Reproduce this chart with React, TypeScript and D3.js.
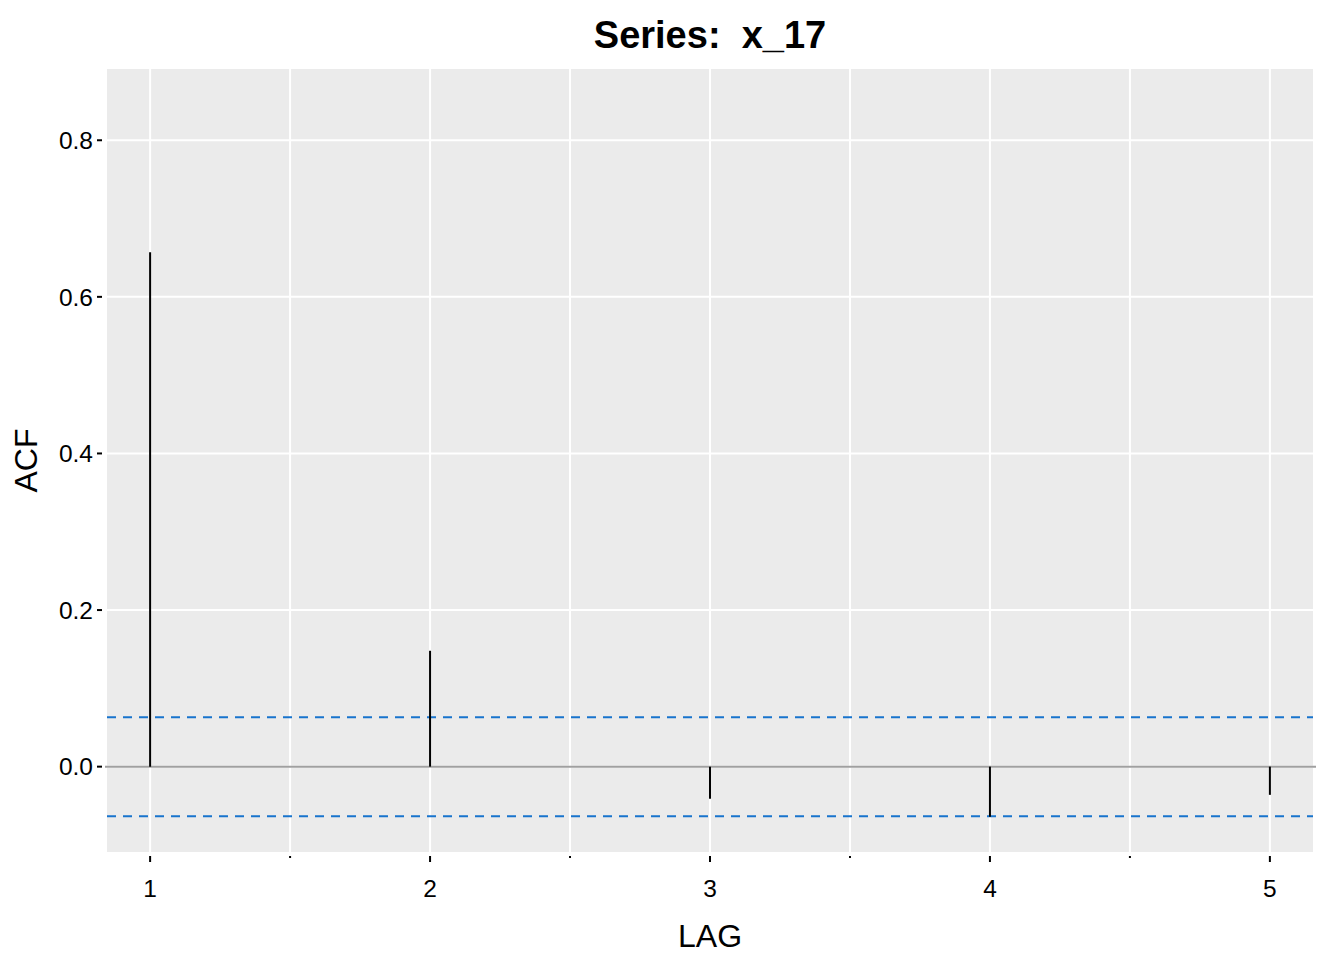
import * as d3 from "d3";

const lags = [1, 2, 3, 4, 5];
const acfValues = [0.657, 0.148, -0.041, -0.064, -0.036];
const ciBound = 0.0632;
const xTicks = [1, 2, 3, 4, 5];
const xMinorTicks = [1.5, 2.5, 3.5, 4.5];
const yTicks = [0, 0.2, 0.4, 0.6, 0.8];
const titleText = "Series:  x_17";
const xLabel = "LAG";
const yLabel = "ACF";

const width = 1344;
const height = 960;
const panel = { left: 107, right: 1313, top: 69, bottom: 852 };
const font = "'Liberation Sans', Arial, sans-serif";

export default function App() {
    const x = d3.scaleLinear().domain([0.846, 5.154]).range([panel.left, panel.right]);
    const y = d3.scaleLinear().domain([-0.109, 0.891]).range([panel.bottom, panel.top]);
    const fmt = d3.format(".1f");

    return (
        <div style={{ position: "fixed", left: 0, top: 0 }}>
            <svg width={width} height={height} style={{ display: "block", background: "#fff" }}>
                <rect
                    x={panel.left}
                    y={panel.top}
                    width={panel.right - panel.left}
                    height={panel.bottom - panel.top}
                    fill="#EBEBEB"
                />

                {/* grid */}
                {xMinorTicks.map(t => (
                    <line key={"xm" + t} x1={x(t)} x2={x(t)} y1={panel.top} y2={panel.bottom} stroke="#fff" strokeWidth={2} />
                ))}
                {xTicks.map(t => (
                    <line key={"xg" + t} x1={x(t)} x2={x(t)} y1={panel.top} y2={panel.bottom} stroke="#fff" strokeWidth={2} />
                ))}
                {yTicks.map(t => (
                    <line key={"yg" + t} x1={panel.left} x2={panel.right} y1={y(t)} y2={y(t)} stroke="#fff" strokeWidth={2} />
                ))}

                {/* zero line */}
                <line x1={panel.left - 2} x2={panel.right + 3} y1={y(0)} y2={y(0)} stroke="#A0A0A0" strokeWidth={2} />

                {/* confidence bounds */}
                {[ciBound, -ciBound].map(b => (
                    <line
                        key={"ci" + b}
                        x1={panel.left}
                        x2={panel.right}
                        y1={y(b)}
                        y2={y(b)}
                        stroke="#1874CD"
                        strokeWidth={2}
                        strokeDasharray="9,7"
                    />
                ))}

                {/* acf segments */}
                {lags.map((l, i) => (
                    <line key={"bar" + l} x1={x(l)} x2={x(l)} y1={y(0)} y2={y(acfValues[i])} stroke="#000" strokeWidth={2} />
                ))}

                {/* x axis */}
                {xTicks.map(t => (
                    <g key={"xt" + t} transform={`translate(${x(t)},0)`}>
                        <line y1={856} y2={862} stroke="#000" strokeWidth={2} />
                        <text y={897} textAnchor="middle" fontFamily={font} fontSize={24.5} fill="#000">{t}</text>
                    </g>
                ))}
                {xMinorTicks.map(t => (
                    <line key={"xmt" + t} x1={x(t)} x2={x(t)} y1={856} y2={858} stroke="#000" strokeWidth={2} />
                ))}

                {/* y axis */}
                {yTicks.map(t => (
                    <g key={"yt" + t} transform={`translate(0,${y(t)})`}>
                        <line x1={97} x2={102} stroke="#000" strokeWidth={2} />
                        <text x={93} dy="0.36em" textAnchor="end" fontFamily={font} fontSize={24.5} fill="#000">{fmt(t)}</text>
                    </g>
                ))}

                {/* titles */}
                <text
                    x={(panel.left + panel.right) / 2}
                    y={48}
                    textAnchor="middle"
                    fontFamily={font}
                    fontSize={38}
                    fontWeight="bold"
                    fill="#000"
                    style={{ whiteSpace: "pre" }}
                >
                    {titleText}
                </text>
                <text x={(panel.left + panel.right) / 2} y={947} textAnchor="middle" fontFamily={font} fontSize={32} fill="#000">
                    {xLabel}
                </text>
                <text
                    transform={`translate(37,${(panel.top + panel.bottom) / 2}) rotate(-90)`}
                    textAnchor="middle"
                    fontFamily={font}
                    fontSize={32}
                    fill="#000"
                >
                    {yLabel}
                </text>
            </svg>
        </div>
    );
}
